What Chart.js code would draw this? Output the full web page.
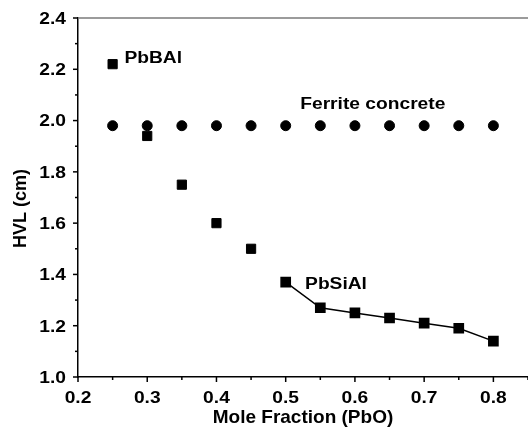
<!DOCTYPE html>
<html lang="en">
<head>
    <meta charset="UTF-8">
    <title>HVL x Mole Fraction</title>
    <script src="https://cdn.jsdelivr.net/npm/chart.js"></script>
    <style>
        html, body { margin: 0; padding: 0; background: #fff; overflow: hidden; }
        #grafico { display: block; }
    </style>
</head>
<body>
    <canvas id="grafico" width="536" height="430"></canvas>
<script>
    // dados
    const fracaoPbBAl = [0.25, 0.30, 0.35, 0.40, 0.45]
    const hvlPbBAl = [2.22, 1.94, 1.75, 1.60, 1.50]

    const fracaoPbSiAl = [0.50, 0.55, 0.60, 0.65, 0.70, 0.75, 0.80]
    const hvlPbSiAl = [1.37, 1.27, 1.25, 1.23, 1.21, 1.19, 1.14]

    const fracaoFerrite = [0.25, 0.30, 0.35, 0.40, 0.45, 0.50, 0.55, 0.60, 0.65, 0.70, 0.75, 0.80]
    const hvlFerrite = [1.98, 1.98, 1.98, 1.98, 1.98, 1.98, 1.98, 1.98, 1.98, 1.98, 1.98, 1.98]

    const ticksX = [0.2, 0.3, 0.4, 0.5, 0.6, 0.7, 0.8]
    const ticksY = [1.0, 1.2, 1.4, 1.6, 1.8, 2.0, 2.2, 2.4]

    const rotulos = ['PbBAl', 'Ferrite concrete', 'PbSiAl']
    const rotuloX = [0.267, 0.521, 0.528]
    const rotuloY = [2.226, 2.045, 1.344]

    const tituloX = 'Mole Fraction (PbO)'
    const tituloY = 'HVL (cm)'

    const fonte = '"Liberation Sans", Arial, sans-serif'
    const esticar = 1.2 // o texto do original e mais largo

    function pontos(xs, ys) {
        return xs.map((v, i) => ({ x: v, y: ys[i] }))
    }

    function linha(ctx, x1, y1, x2, y2) {
        ctx.beginPath()
        ctx.moveTo(x1, y1)
        ctx.lineTo(x2, y2)
        ctx.stroke()
    }

    function texto(ctx, t, x, y, alinhar, esc) {
        ctx.save()
        ctx.translate(x, y)
        ctx.scale(esc, 1)
        ctx.textAlign = alinhar
        ctx.fillText(t, 0, 0)
        ctx.restore()
    }

    const extras = {
        id: 'extras',
        afterDraw(chart) {
            const ctx = chart.ctx
            const area = chart.chartArea
            const ex = chart.scales.x
            const ey = chart.scales.y
            ctx.save()

            // borda de cima
            ctx.strokeStyle = '#7a7a7a'
            ctx.lineWidth = 1.5
            linha(ctx, area.left, area.top, area.right, area.top)

            // marcas dos eixos (maiores e menores)
            ctx.strokeStyle = '#000'
            ctx.lineWidth = 1.5
            ex.ticks.forEach((t, i) => {
                const px = ex.getPixelForValue(t.value)
                const tam = i % 2 == 0 ? 5 : 3
                linha(ctx, px, area.bottom, px, area.bottom + tam)
            })
            ey.ticks.forEach((t, i) => {
                const py = ey.getPixelForValue(t.value)
                const tam = i % 2 == 0 ? 5 : 3
                linha(ctx, area.left, py, area.left - tam, py)
            })

            ctx.fillStyle = '#000'
            ctx.textBaseline = 'alphabetic'

            // rotulos dos eixos
            ctx.font = 'bold 16px ' + fonte
            ticksX.forEach(v => {
                texto(ctx, v.toFixed(1), ex.getPixelForValue(v), area.bottom + 25.5, 'center', esticar)
            })
            ticksY.forEach(v => {
                texto(ctx, v.toFixed(1), area.left - 12, ey.getPixelForValue(v) + 5.8, 'right', esticar)
            })

            // textos dentro do grafico
            for (let i = 0; i < rotulos.length; i++) {
                texto(ctx, rotulos[i], ex.getPixelForValue(rotuloX[i]), ey.getPixelForValue(rotuloY[i]), 'left', esticar)
            }

            // titulos dos eixos
            ctx.font = 'bold 19px ' + fonte
            texto(ctx, tituloX, (area.left + area.right) / 2, 423, 'center', 1)
            ctx.font = 'bold 18px ' + fonte
            ctx.translate(26, (area.top + area.bottom) / 2 + 11)
            ctx.rotate(-Math.PI / 2)
            texto(ctx, tituloY, 0, 0, 'center', 1)

            ctx.restore()
        }
    }

    const dados = {
        datasets: [
            {
                data: pontos(fracaoFerrite, hvlFerrite),
                pointStyle: 'circle',
                pointRadius: 5,
                backgroundColor: '#000',
                borderColor: '#000',
                borderWidth: 1,
                showLine: false
            },
            {
                data: pontos(fracaoPbBAl, hvlPbBAl),
                pointStyle: 'rect',
                pointRadius: 6.5,
                backgroundColor: '#000',
                borderColor: '#000',
                borderWidth: 1,
                showLine: false
            },
            {
                data: pontos(fracaoPbSiAl, hvlPbSiAl),
                pointStyle: 'rect',
                pointRadius: 6.5,
                backgroundColor: '#000',
                borderColor: '#000',
                borderWidth: 1.5,
                showLine: true,
                tension: 0
            }
        ]
    }

    const opcoes = {
        responsive: false,
        animation: false,
        layout: { padding: { top: 18, right: 5, left: 0, bottom: 0 } },
        plugins: {
            legend: { display: false },
            tooltip: { enabled: false }
        },
        scales: {
            x: {
                type: 'linear',
                min: 0.2,
                max: 0.85,
                afterFit: (s) => { s.height = 53 },
                border: { color: '#000', width: 1.5 },
                grid: { drawOnChartArea: false, drawTicks: false },
                ticks: { stepSize: 0.05, autoSkip: false, display: false }
            },
            y: {
                type: 'linear',
                min: 1.0,
                max: 2.4,
                afterFit: (s) => { s.width = 78 },
                border: { color: '#000', width: 1.5 },
                grid: { drawOnChartArea: false, drawTicks: false },
                ticks: { stepSize: 0.1, autoSkip: false, display: false }
            }
        }
    }

    new Chart(document.getElementById('grafico'), {
        type: 'scatter',
        data: dados,
        options: opcoes,
        plugins: [extras]
    })
</script>
</body>
</html>
